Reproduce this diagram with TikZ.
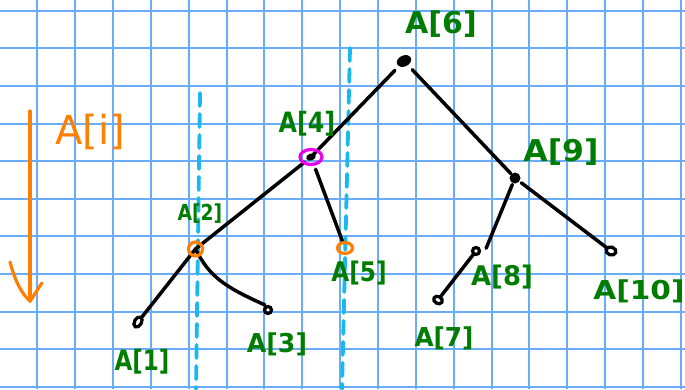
\documentclass[tikz,border=0pt]{standalone}
\usepackage{fontspec}
\setmainfont{DejaVu Sans}
\definecolor{gridblue}{RGB}{105,172,250}
\definecolor{dashcyan}{RGB}{25,185,240}
\definecolor{labgreen}{RGB}{0,125,0}
\definecolor{orng}{RGB}{255,128,0}
\definecolor{magn}{RGB}{232,0,232}
\newcommand{\lab}[3]{\fontsize{#1pt}{#1pt}\selectfont\scalebox{#2}[1]{#3}}
\begin{document}
\begin{tikzpicture}[x=1pt,y=-1pt,
  gridline/.style={gridblue,line width=2pt},
  edge/.style={black,line width=3.5pt,line cap=round},
  guide/.style={dashcyan,line width=3.8pt,dash pattern=on 13pt off 8pt,line cap=round},
  lbl/.style={text=labgreen,inner sep=0pt,font=\bfseries},
  leafmark/.style={black,line width=3.2pt},
  ringmark/.style={line width=3.2pt},
  orngline/.style={orng,line width=3.2pt,line cap=round,line join=round}]
\useasboundingbox (0,0) rectangle (685,389);
\fill[white] (0,0) rectangle (685,389);
% grid
\foreach \k in {0,...,17} {\draw[gridline] ({37.3+37.86*\k},0) -- ({37.3+37.86*\k},389);}
\foreach \j in {0,...,10} {\draw[gridline] (0,{10.7+37.63*\j}) -- (685,{10.7+37.63*\j});}
% dashed guides
\coordinate (g1a) at (200,93); \coordinate (g1b) at (196,389);
\coordinate (g2a) at (350,48); \coordinate (g2b) at (342,389);
\draw[guide] (g1a) -- (g1b);
\draw[guide] (g2a) -- (g2b);
% node positions
\coordinate (n6) at (404,61);
\coordinate (n4) at (311,157);
\coordinate (n9) at (515,178);
\coordinate (n2) at (195.5,249);
\coordinate (n5) at (345,248);
\coordinate (n1) at (138,322);
\coordinate (n3) at (268,310);
\coordinate (n8) at (476,251);
\coordinate (n7) at (438,300);
\coordinate (n10) at (611,251);
% edges
\draw[edge,shorten <=13pt,shorten >=3pt] (n6) -- (n4);
\draw[edge,shorten <=12pt,shorten >=6pt] (n6) -- (n9);
\draw[edge,shorten <=8pt] (n4) -- (n2);
\draw[edge,shorten >=6pt] (n2) -- (n1);
\draw[edge] (n2) .. controls +(14,28) and +(-40,-18) .. ([xshift=-3pt,yshift=5pt]n3);
\draw[edge,shorten <=13pt,shorten >=7pt] (n4) -- (n5);
\draw[edge,shorten <=7pt,shorten >=3pt] (n9) -- ([xshift=9pt]n8);
\draw[edge,shorten <=4pt,shorten >=4pt] (n8) -- (n7);
\draw[edge,shorten <=8pt,shorten >=6pt] (n9) -- (n10);
% node marks
\fill[black,rotate around={25:(n6)}] (n6) ellipse [x radius=7.5pt,y radius=5.5pt];
\fill[black] (n9) circle [radius=5.5pt];
\fill[black,rotate around={20:(n4)}] (n4) ellipse [x radius=5pt,y radius=3.5pt];
\draw[ringmark,magn] (n4) ellipse [x radius=11pt,y radius=7.5pt];
\draw[ringmark,orng] (n2) ellipse [x radius=7pt,y radius=7pt];
\draw[ringmark,orng] (n5) ellipse [x radius=7.5pt,y radius=5.5pt];
\draw[leafmark,rotate around={60:(n1)}] (n1) ellipse [x radius=5.5pt,y radius=3.5pt];
\draw[leafmark] (n3) circle [radius=3.5pt];
\draw[leafmark] (n8) circle [radius=3.5pt];
\draw[leafmark,rotate around={-30:(n7)}] (n7) ellipse [x radius=4.5pt,y radius=3.5pt];
\draw[leafmark,rotate around={-20:(n10)}] (n10) ellipse [x radius=5pt,y radius=4pt];
% labels
\node[lbl] (l6) at (441,24) {\lab{30}{1.0}{A[6]}};
\node[lbl] (l4) at (307,124) {\lab{28}{0.85}{A[4]}};
\node[lbl] (l9) at (561,152) {\lab{30}{1.05}{A[9]}};
\node[lbl] (l2) at (200,214) {\lab{22}{0.85}{A[2]}};
\node[lbl] (l5) at (359,273) {\lab{27}{0.86}{A[5]}};
\node[lbl] (l1) at (142,362) {\lab{28}{0.82}{A[1]}};
\node[lbl] (l3) at (277,344) {\lab{26}{0.97}{A[3]}};
\node[lbl] (l8) at (502,277) {\lab{27}{0.96}{A[8]}};
\node[lbl] (l7) at (444,338) {\lab{26}{0.95}{A[7]}};
\node[lbl] (l10) at (639,291) {\lab{26}{1.14}{A[10]}};
\node[text=orng,inner sep=0pt] (li) at (90,132) {\lab{40}{1.0}{A[i]}};
% orange arrow
\coordinate (oa) at (30,111);
\coordinate (ob) at (30,301);
\coordinate (oleft) at (10,262);
\coordinate (oright) at (42,283);
\draw[orngline] (oa) -- (ob);
\draw[orngline] (oleft) .. controls (16,285) and (24,296) .. (ob) .. controls (34,296) and (38,288) .. (oright);
\end{tikzpicture}
\end{document}
